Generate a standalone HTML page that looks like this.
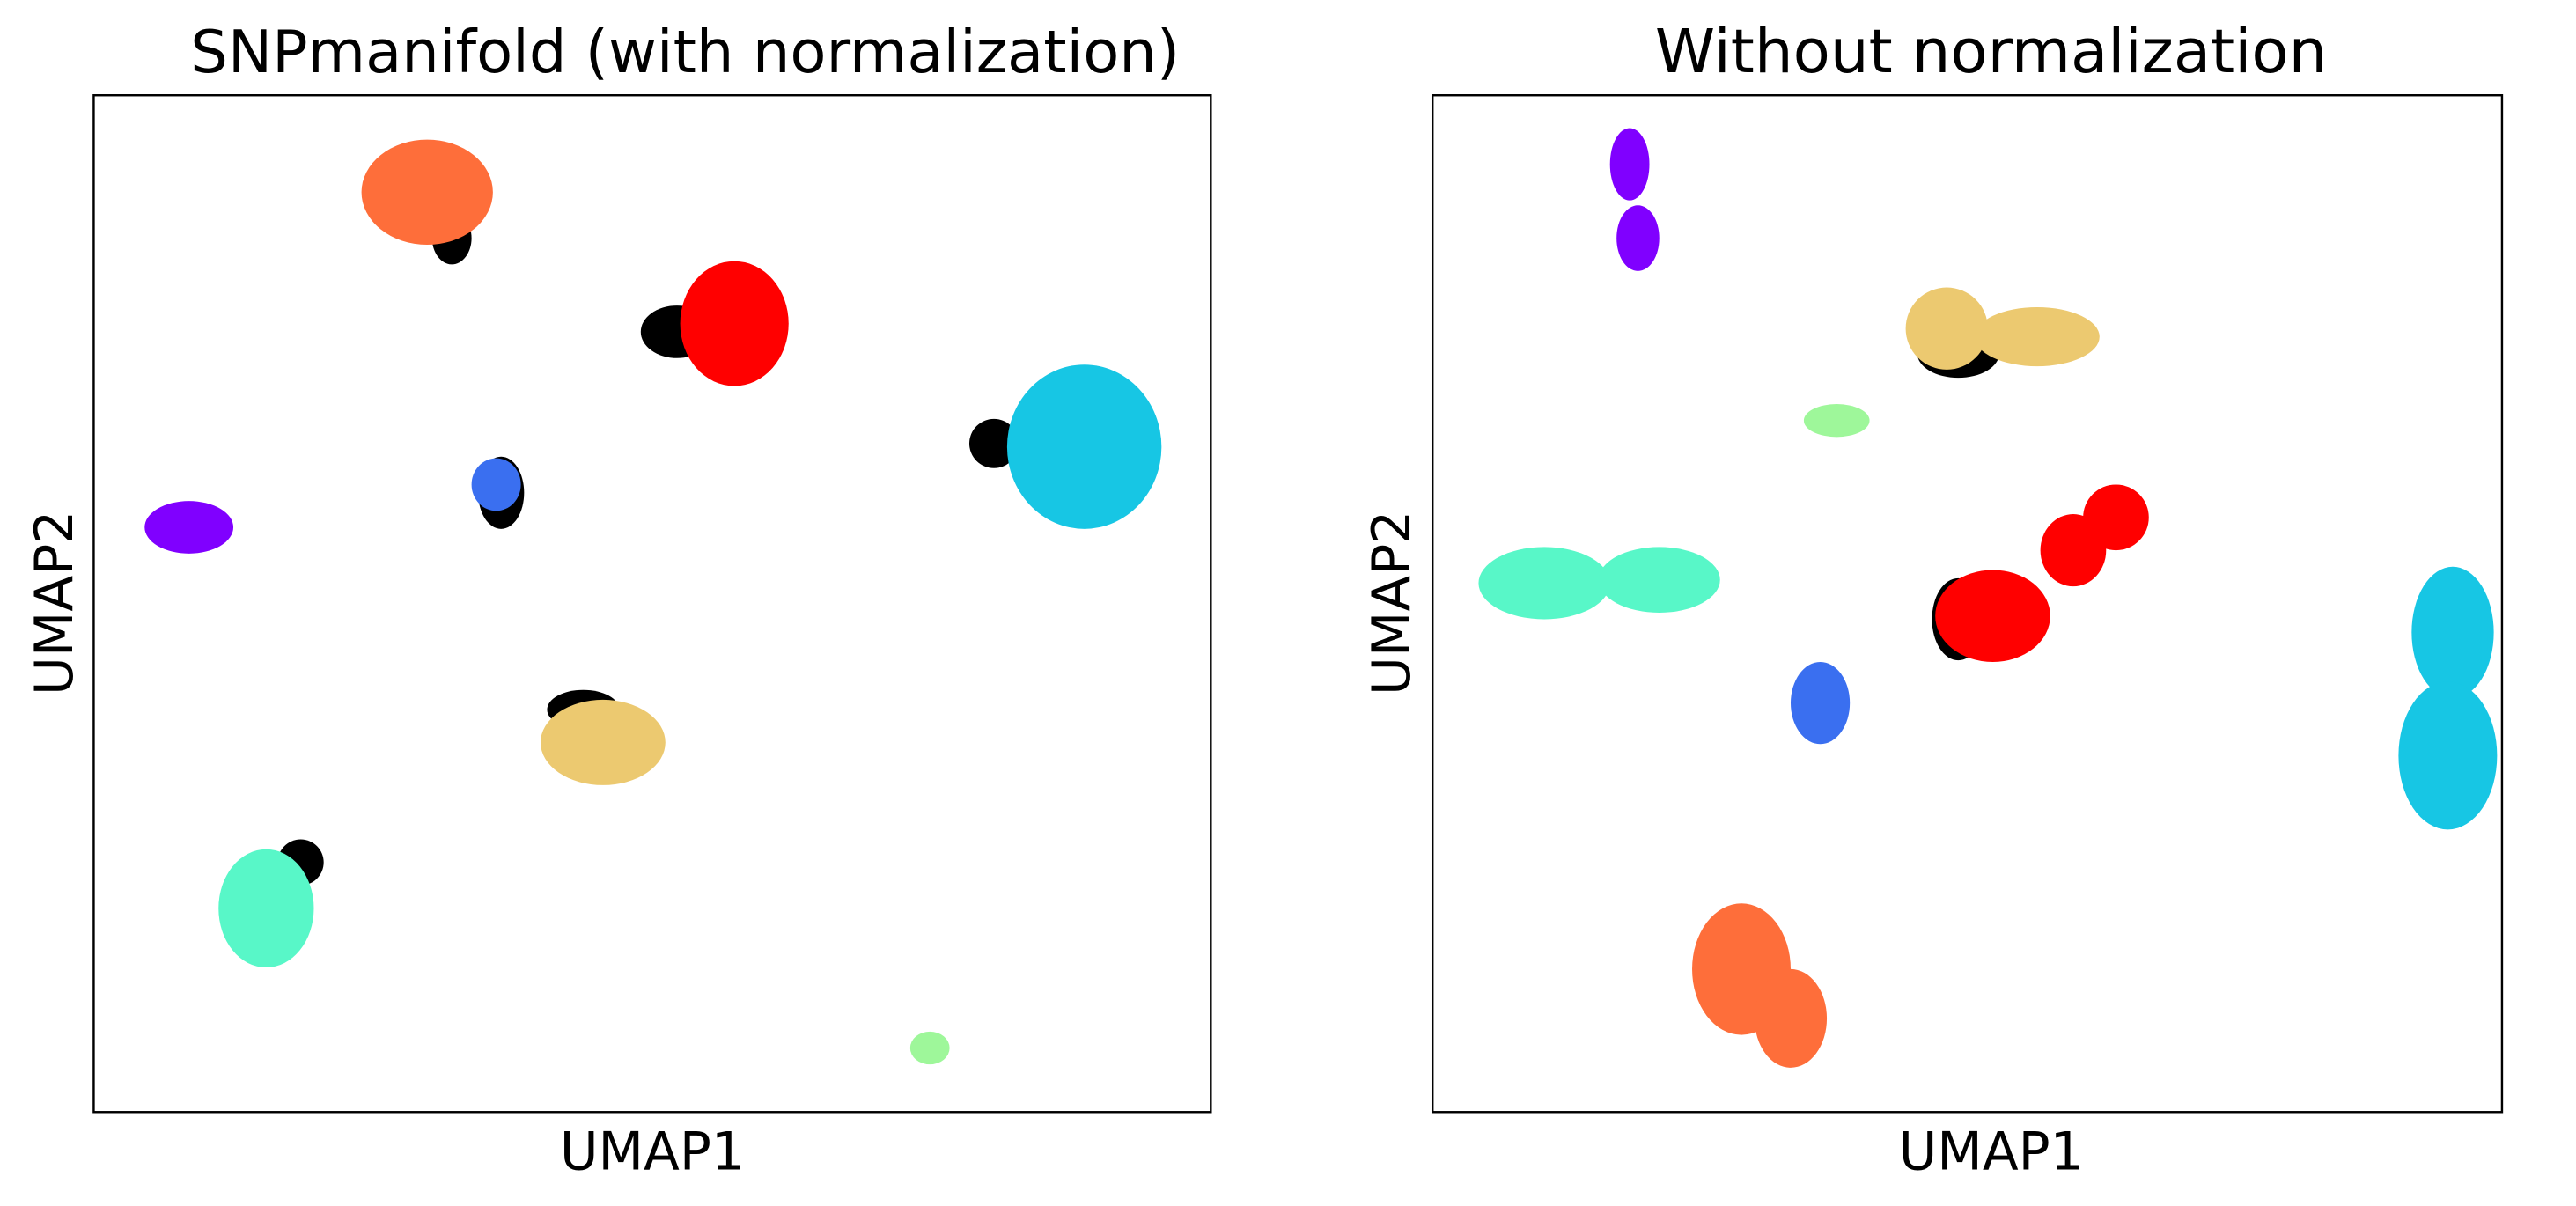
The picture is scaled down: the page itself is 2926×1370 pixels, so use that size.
<!DOCTYPE html>
<html><head><meta charset="utf-8"><style>
html,body{margin:0;padding:0;background:#fff}
svg{display:block}
text{font-family:"DejaVu Sans","Liberation Sans",sans-serif;fill:#000}
</style></head><body>
<svg id="fig" width="2926" height="1370" viewBox="0 0 1568 734.2" xmlns="http://www.w3.org/2000/svg">
<text x="417" y="44" font-size="36" text-anchor="middle">SNPmanifold (with normalization)</text>
<text x="1212" y="44" font-size="37" text-anchor="middle">Without normalization</text>
<g id="leftMarks"></g>
<g id="rightMarks"></g>
<rect x="57" y="58" width="680" height="619" fill="none" stroke="#000" stroke-width="1.3"/>
<rect x="872" y="58" width="651" height="619" fill="none" stroke="#000" stroke-width="1.3"/>
<text x="397" y="712" font-size="32" text-anchor="middle">UMAP1</text>
<text x="1212" y="712" font-size="32" text-anchor="middle">UMAP1</text>
<text x="0" y="0" font-size="32" text-anchor="middle" transform="translate(44,367) rotate(-90)">UMAP2</text>
<text x="0" y="0" font-size="32" text-anchor="middle" transform="translate(858,367) rotate(-90)">UMAP2</text>
</svg>
<script>
// cluster blobs in data units (left: x 0..680, right: x 0..651, y 0..619 bottom-up)
const leftClusterNames = ["black-orange","orange","black-red","red","black-cyan","cyan","black-blue","blue","purple","black-gold","gold","black-aqua","aqua","green"];
const leftX  = [218,203,355,390,548,603,248,245,58,298,310,126,105,509];
const leftY  = [532,560,475,480,407,405,377,382,356,245,225,152,124,39];
const leftRx = [12,40,22,33,15,47,14,15,27,22,38,14,29,12];
const leftRy = [16,32,16,38,15,50,22,16,16,12,26,14,36,10];
const leftColors = ["#000","#fe6e3a","#000","#ff0000","#000","#17c6e4","#000","#3a6ff0","#8000ff","#000","#ecc970","#000","#58f7c8","#9ef79a"];

const rightClusterNames = ["purple-a","purple-b","black-gold","gold-a","gold-b","green","aqua-a","aqua-b","black-red","red-a","red-b","red-c","blue","cyan-a","cyan-b","orange-a","orange-b"];
const rightX  = [120,125,320,313,368,246,68,138,320,341,390,416,236,621,618,188,218];
const rightY  = [577,532,462,477,472,421,322,324,300,302,342,362,249,292,217,87,57];
const rightRx = [12,13,25,25,38,20,40,37,16,35,20,20,18,25,30,30,22];
const rightRy = [22,20,15,25,18,10,22,20,25,28,22,20,25,40,45,40,30];
const rightColors = ["#8000ff","#8000ff","#000","#ecc970","#ecc970","#9ef79a","#58f7c8","#58f7c8","#000","#ff0000","#ff0000","#ff0000","#3a6ff0","#17c6e4","#17c6e4","#fe6e3a","#fe6e3a"];

const NS="http://www.w3.org/2000/svg";
function makeAxes(left,top,w,h,dx){
  return {x:v=>left+v/dx*w, y:v=>top+h-v/619*h, sx:v=>v/dx*w, sy:v=>v/619*h};
}
const axL=makeAxes(57,58,680,619,680);
const axR=makeAxes(872,58,651,619,651);
function draw(g,ax,names,xs,ys,rxs,rys,cols){
  for(let i=0;i<xs.length;i++){
    const e=document.createElementNS(NS,"ellipse");
    e.setAttribute("cx",ax.x(xs[i]));
    e.setAttribute("cy",ax.y(ys[i]));
    e.setAttribute("rx",ax.sx(rxs[i]));
    e.setAttribute("ry",ax.sy(rys[i]));
    e.setAttribute("fill",cols[i]);
    
    
    g.appendChild(e);
  }
}
draw(document.getElementById("leftMarks"),axL,leftClusterNames,leftX,leftY,leftRx,leftRy,leftColors);
draw(document.getElementById("rightMarks"),axR,rightClusterNames,rightX,rightY,rightRx,rightRy,rightColors);
</script>
</body></html>
